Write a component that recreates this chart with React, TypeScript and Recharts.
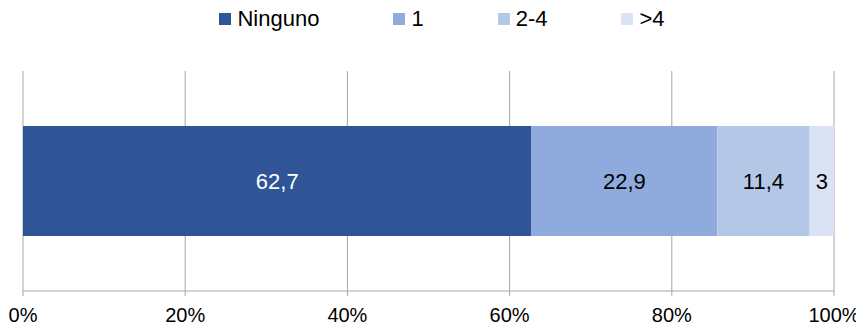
import { BarChart, Bar, XAxis, YAxis, CartesianGrid, Legend, LabelList } from "recharts";

const categories = ["Total"];
const seriesNames = ["Ninguno", "1", "2-4", ">4"];
const ninguno = [62.7];
const uno = [22.9];
const dosCuatro = [11.4];
const masCuatro = [3];
const xTicks = [0, 20, 40, 60, 80, 100];

const colors = ["#2F5597", "#8FAADC", "#B4C7E7", "#DAE3F3"];
const labelColors = ["#FFFFFF", "#000000", "#000000", "#000000"];
const keys = ["ninguno", "uno", "dosCuatro", "masCuatro"];
const font = "'Liberation Sans', Arial, sans-serif";

const data = categories.map((name, i) => ({
  name,
  ninguno: ninguno[i],
  uno: uno[i],
  dosCuatro: dosCuatro[i],
  masCuatro: masCuatro[i],
}));

const fmt = (v: number) => String(v).replace(".", ",");

const LegendContent = () => (
  <div
    style={{
      display: "flex",
      justifyContent: "center",
      alignItems: "center",
      height: 25,
      lineHeight: "25px",
      fontFamily: font,
      fontSize: 22,
      color: "#000",
    }}
  >
    {seriesNames.map((s, i) => (
      <div
        key={s}
        style={{
          display: "flex",
          alignItems: "center",
          marginRight: i < seriesNames.length - 1 ? 74 : 0,
        }}
      >
        <span style={{ width: 12, height: 12, background: colors[i], marginRight: 6 }} />
        <span>{s}</span>
      </div>
    ))}
  </div>
);

export default function App() {
  return (
    <BarChart
      width={856}
      height={318}
      data={data}
      layout="vertical"
      barCategoryGap="25%"
      margin={{ top: 38, right: 30, bottom: 0, left: 15 }}
    >
      <Legend
        verticalAlign="top"
        align="center"
        content={LegendContent}
        wrapperStyle={{ top: -2, left: 6, width: 856, height: 25 }}
      />
      <CartesianGrid horizontal={false} stroke="#A6A6A6" />
      <XAxis
        type="number"
        domain={[0, 100]}
        ticks={xTicks}
        tickFormatter={(v) => `${v}%`}
        axisLine={{ stroke: "#A6A6A6" }}
        tickLine={{ stroke: "#A6A6A6" }}
        tickSize={5}
        tickMargin={12}
        height={35}
        tick={{ fill: "#000", fontSize: 20, fontFamily: font }}
        interval={0}
      />
      <YAxis type="category" dataKey="name" hide />
      {keys.map((k, i) => (
        <Bar key={k} dataKey={k} name={seriesNames[i]} stackId="a" fill={colors[i]} isAnimationActive={false}>
          <LabelList
            dataKey={k}
            position="center"
            formatter={(v: number) => fmt(v)}
            fill={labelColors[i]}
            style={{ fontSize: 22, fontFamily: font }}
          />
        </Bar>
      ))}
    </BarChart>
  );
}
